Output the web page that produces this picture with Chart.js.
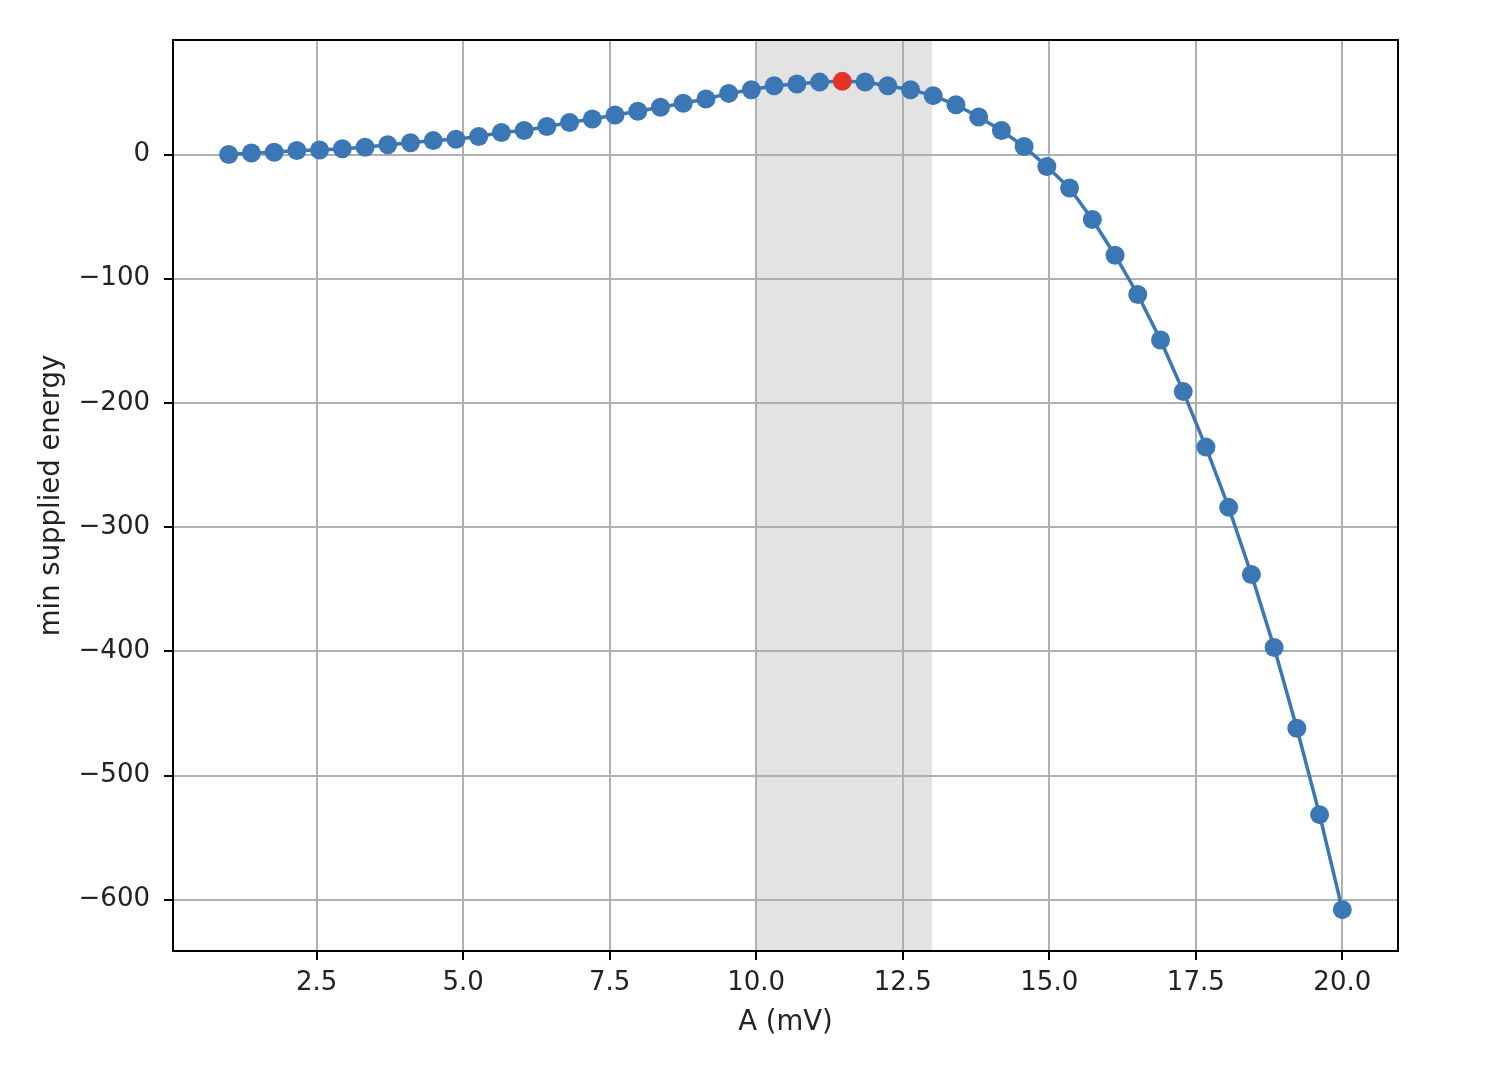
<!DOCTYPE html>
<html>
<head>
<meta charset="UTF-8">
<title>min supplied energy vs A</title>
<script src="https://cdn.jsdelivr.net/npm/chart.js"></script>
<style>
  html, body { margin: 0; padding: 0; background: #fff; }
  canvas { display: block; }
</style>
</head>
<body>
<canvas id="energyChart" width="1502" height="1068"></canvas>

<script>
    // A (mV) sample points
    const amplitudes = [
        1.000, 1.388, 1.776, 2.163, 2.551, 2.939, 3.327, 3.714, 4.102, 4.490,
        4.878, 5.265, 5.653, 6.041, 6.429, 6.816, 7.204, 7.592, 7.980, 8.367,
        8.755, 9.143, 9.531, 9.918, 10.306, 10.694, 11.082, 11.469, 11.857, 12.245,
        12.633, 13.020, 13.408, 13.796, 14.184, 14.571, 14.959, 15.347, 15.735, 16.122,
        16.510, 16.898, 17.286, 17.673, 18.061, 18.449, 18.837, 19.224, 19.612, 20.000
    ];
    // min supplied energy
    const minEnergy = [
        0, 1.2, 1.8, 3.2, 3.6, 4.6, 5.9, 7.8, 9.4, 11.2,
        12.3, 14.5, 17.7, 19.3, 22.5, 25.8, 28.6, 31.8, 34.8, 38.0,
        41.2, 44.7, 49.2, 52.2, 55.4, 56.8, 58.3, 58.9, 58.4, 55.4,
        52.2, 47.4, 40.0, 30.2, 19.3, 6.4, -9.6, -27.0, -52.4, -81.1,
        -112.7, -149.4, -190.9, -235.6, -284.1, -338.2, -397.0, -462.0, -531.5, -608.0
    ];
    const shadedRange = [10, 13];
    const xTicks = [2.5, 5.0, 7.5, 10.0, 12.5, 15.0, 17.5, 20.0];
    const yTicks = [-600, -500, -400, -300, -200, -100, 0];

    const blue = '#3b77b4';
    const red = '#e6332a';
    const tickFont = { family: 'DejaVu Sans', size: 26 };
    const titleFont = { family: 'DejaVu Sans', size: 27.5 };

    const bestIdx = minEnergy.indexOf(Math.max(...minEnergy));
    const points = amplitudes.map((a, i) => ({ x: a, y: minEnergy[i] }));

    // grey band behind the grid
    const bandPlugin = {
        id: 'band',
        beforeDraw(chart) {
            const { ctx, chartArea, scales } = chart;
            const x0 = scales.x.getPixelForValue(shadedRange[0]);
            const x1 = scales.x.getPixelForValue(shadedRange[1]);
            ctx.save();
            ctx.fillStyle = '#ffffff';
            ctx.fillRect(0, 0, chart.width, chart.height);
            ctx.fillStyle = '#e3e3e3';
            ctx.fillRect(x0, chartArea.top, x1 - x0, chartArea.bottom - chartArea.top);
            ctx.restore();
        }
    };

    // axes frame on all four sides
    const framePlugin = {
        id: 'frame',
        afterDraw(chart) {
            const { ctx, chartArea } = chart;
            ctx.save();
            ctx.strokeStyle = '#000';
            ctx.lineWidth = 2;
            ctx.strokeRect(chartArea.left, chartArea.top,
                chartArea.right - chartArea.left, chartArea.bottom - chartArea.top);
            ctx.restore();
        }
    };

    const ctx = document.getElementById('energyChart').getContext('2d');
    new Chart(ctx, {
        type: 'line',
        data: {
            datasets: [{
                label: 'min supplied energy',
                data: points,
                borderColor: blue,
                borderWidth: 3.5,
                pointRadius: 9.5,
                pointBorderWidth: 0,
                pointBackgroundColor: c => c.dataIndex === bestIdx ? red : blue,
                pointBorderColor: c => c.dataIndex === bestIdx ? red : blue,
                tension: 0
            }]
        },
        options: {
            responsive: false,
            animation: false,
            layout: { padding: { top: 40, right: 104, left: 0, bottom: 0 } },
            plugins: {
                legend: { display: false },
                tooltip: { enabled: false }
            },
            scales: {
                x: {
                    type: 'linear',
                    min: 0.05,
                    max: 20.95,
                    afterBuildTicks: s => { s.ticks = xTicks.map(v => ({ value: v })); },
                    afterFit: s => { s.height = 117; },
                    border: { display: false },
                    grid: { color: '#b0b0b0', lineWidth: 2, tickLength: 9, tickColor: '#000', tickWidth: 2 },
                    ticks: {
                        color: '#222',
                        font: tickFont,
                        padding: 8,
                        maxRotation: 0,
                        callback: v => v.toFixed(1)
                    },
                    title: {
                        display: true,
                        text: 'A (mV)',
                        color: '#222',
                        font: titleFont,
                        padding: { top: 0, bottom: 29 }
                    }
                },
                y: {
                    type: 'linear',
                    min: -641.3,
                    max: 92.2,
                    afterBuildTicks: s => { s.ticks = yTicks.map(v => ({ value: v })); },
                    afterFit: s => { s.width = 173; },
                    border: { display: false },
                    grid: { color: '#b0b0b0', lineWidth: 2, tickLength: 9, tickColor: '#000', tickWidth: 2 },
                    ticks: {
                        color: '#222',
                        font: tickFont,
                        padding: 14,
                        callback: v => String(v).replace('-', '\u2212')
                    },
                    title: {
                        display: true,
                        text: 'min supplied energy',
                        color: '#222',
                        font: titleFont,
                        padding: { top: 35, bottom: 0 }
                    }
                }
            }
        },
        plugins: [bandPlugin, framePlugin]
    });
</script>
</body>
</html>
